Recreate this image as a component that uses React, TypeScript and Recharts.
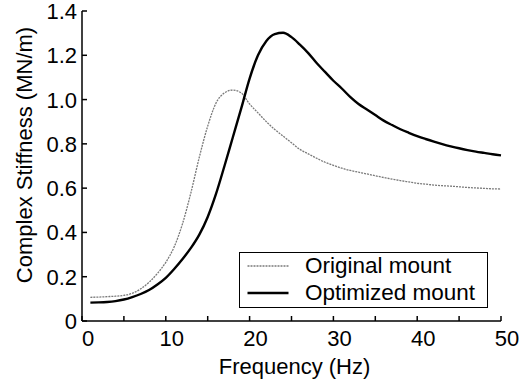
import { LineChart, Line, XAxis, YAxis, Legend } from "recharts";

const frequencies = [
  1, 2, 3, 4, 5, 6, 7, 8, 9, 10, 11, 12, 13, 14, 15, 16, 17, 18, 19, 20, 21, 22, 23, 24, 25,
  26, 27, 28, 29, 30, 31, 32, 33, 34, 35, 36, 37, 38, 39, 40, 41, 42, 43, 44, 45, 46, 47, 48, 49, 50,
];

const originalStiffness = [
  0.107, 0.108, 0.11, 0.112, 0.116, 0.125, 0.145, 0.175, 0.215, 0.265, 0.335, 0.44, 0.58, 0.74, 0.88,
  0.985, 1.03, 1.043, 1.03, 0.98, 0.94, 0.9, 0.865, 0.835, 0.805, 0.775, 0.755, 0.735, 0.717, 0.703,
  0.69, 0.68, 0.672, 0.664, 0.656, 0.648, 0.641, 0.634, 0.628, 0.622, 0.618, 0.614, 0.611, 0.609,
  0.606, 0.603, 0.601, 0.599, 0.597, 0.596,
];

const optimizedStiffness = [
  0.083, 0.084, 0.086, 0.09, 0.097, 0.108, 0.122, 0.14, 0.165, 0.195, 0.235, 0.28, 0.33, 0.39, 0.47,
  0.575, 0.7, 0.83, 0.96, 1.095, 1.2, 1.265, 1.296, 1.302, 1.282, 1.248, 1.21, 1.165, 1.125, 1.085,
  1.05, 1.012, 0.98, 0.955, 0.93, 0.905, 0.885, 0.866, 0.85, 0.835, 0.822, 0.81, 0.799, 0.789, 0.78,
  0.772, 0.765, 0.759, 0.753, 0.748,
];

const xTicks = [0, 5, 10, 15, 20, 25, 30, 35, 40, 45, 50];
const yTicks = [0, 0.2, 0.4, 0.6, 0.8, 1.0, 1.2, 1.4];

const data = frequencies.map((f, i) => ({
  freq: f,
  original: originalStiffness[i],
  optimized: optimizedStiffness[i],
}));

const FONT = '"Liberation Sans", Arial, Helvetica, sans-serif';
const FS = 22;

const series = [
  { key: "original", name: "Original mount", stroke: "#7a7a7a", width: 1.3, dash: "2 1" },
  { key: "optimized", name: "Optimized mount", stroke: "#000", width: 2.4, dash: undefined },
];

const BottomTick = (props: any) => {
  const { x, y, payload } = props;
  const v = payload.value;
  return (
    <g>
      <line x1={x} y1={y} x2={x} y2={y - 5} stroke="#000" strokeWidth={1.5} />
      {v % 10 === 0 && (
        <text x={x + 6} y={y + 25} textAnchor="middle" fontSize={FS} fontFamily={FONT} fill="#000">
          {v}
        </text>
      )}
    </g>
  );
};

const TopTick = (props: any) => {
  const { x, y } = props;
  return <line x1={x} y1={y} x2={x} y2={y + 5} stroke="#000" strokeWidth={1.5} />;
};

const LeftTick = (props: any) => {
  const { x, y, payload } = props;
  const v = payload.value;
  const label = v === 0 ? "0" : v.toFixed(1);
  return (
    <g>
      <line x1={x} y1={y} x2={x + 5} y2={y} stroke="#000" strokeWidth={1.5} />
      <text x={x - 5} y={y + 8} textAnchor="end" fontSize={FS} fontFamily={FONT} fill="#000">
        {label}
      </text>
    </g>
  );
};

const RightTick = (props: any) => {
  const { x, y } = props;
  return <line x1={x} y1={y} x2={x - 5} y2={y} stroke="#000" strokeWidth={1.5} />;
};

const YLabel = (props: any) => {
  const { viewBox } = props;
  const cx = 32;
  const cy = viewBox.y + viewBox.height / 2 - 11;
  return (
    <text
      x={cx}
      y={cy}
      transform={`rotate(-90, ${cx}, ${cy})`}
      textAnchor="middle"
      fontSize={FS}
      fontFamily={FONT}
      fill="#000"
    >
      Complex Stiffness (MN/m)
    </text>
  );
};

const LegendBox = () => (
  <div
    style={{
      width: 249,
      height: 56,
      border: "1.5px solid #000",
      background: "#fff",
      boxSizing: "border-box",
      fontFamily: FONT,
      fontSize: 22.5,
      color: "#000",
      paddingTop: 0,
    }}
  >
    {series.map((s) => (
      <div key={s.key} style={{ display: "flex", alignItems: "center", height: 26.5, lineHeight: "26px" }}>
        <svg width={65} height={26} style={{ flex: "none" }}>
          <line
            x1={7.5}
            y1={13}
            x2={48.5}
            y2={13}
            stroke={s.stroke}
            strokeWidth={s.width}
            strokeDasharray={s.dash}
          />
        </svg>
        <span>{s.name}</span>
      </div>
    ))}
  </div>
);

export default function App() {
  return (
    <div style={{ position: "absolute", left: 0, top: 0, width: 529, height: 380, background: "#fff" }}>
      <LineChart width={529} height={380} data={data} margin={{ top: 11, right: 28, bottom: 0, left: 0 }}>
        <XAxis
          dataKey="freq"
          type="number"
          domain={[0, 50]}
          ticks={xTicks}
          interval={0}
          height={59}
          tickSize={0}
          tickMargin={0}
          tickLine={false}
          tick={<BottomTick />}
          axisLine={{ stroke: "#000", strokeWidth: 1.5 }}
          label={{
            value: "Frequency (Hz)",
            position: "insideBottom",
            offset: 6,
            dx: 3,
            style: { fontSize: FS, fontFamily: FONT, fill: "#000" },
          }}
        />
        <XAxis
          xAxisId="top"
          dataKey="freq"
          type="number"
          orientation="top"
          domain={[0, 50]}
          ticks={xTicks}
          interval={0}
          height={0}
          tickSize={0}
          tickMargin={0}
          tickLine={false}
          tick={<TopTick />}
          axisLine={{ stroke: "#000", strokeWidth: 1.5 }}
        />
        <YAxis
          type="number"
          domain={[0, 1.4]}
          ticks={yTicks}
          interval={0}
          width={82}
          tickSize={0}
          tickMargin={0}
          tickLine={false}
          tick={<LeftTick />}
          axisLine={{ stroke: "#000", strokeWidth: 1.5 }}
          label={<YLabel />}
        />
        <YAxis
          yAxisId="right"
          orientation="right"
          type="number"
          domain={[0, 1.4]}
          ticks={yTicks}
          interval={0}
          width={0}
          tickSize={0}
          tickMargin={0}
          tickLine={false}
          tick={<RightTick />}
          axisLine={{ stroke: "#000", strokeWidth: 1.5 }}
        />
        {series.map((s) => (
          <Line
            key={s.key}
            dataKey={s.key}
            name={s.name}
            type="monotone"
            stroke={s.stroke}
            strokeWidth={s.width}
            strokeDasharray={s.dash}
            dot={false}
            activeDot={false}
            isAnimationActive={false}
          />
        ))}
        <Legend
          layout="vertical"
          align="center"
          verticalAlign="middle"
          content={<LegendBox />}
          wrapperStyle={{ left: 239, top: 252, width: 249, height: 56 }}
        />
      </LineChart>
    </div>
  );
}
